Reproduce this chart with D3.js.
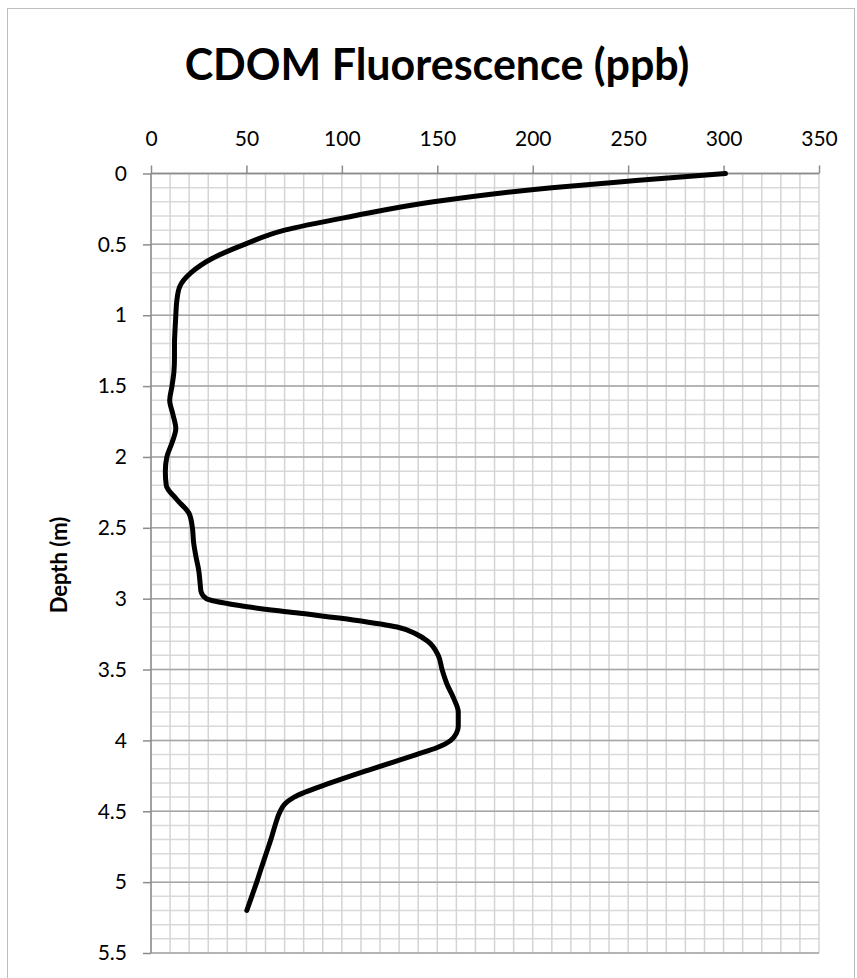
<!DOCTYPE html>
<html>
<head>
<meta charset="utf-8">
<script src="https://cdn.jsdelivr.net/npm/d3@7"></script>
<style>
body{margin:0;background:#fff;}
text{font-family:Lato,"Open Sans",sans-serif;fill:#000;}
</style>
</head>
<body>
<script>
// profile
var depth = [0,0.05,0.1,0.2,0.3,0.4,0.5,0.6,0.7,0.8,0.9,1.0,1.1,1.2,1.3,1.4,1.5,1.6,1.7,1.8,1.9,2.0,2.1,2.2,2.3,2.4,2.5,2.6,2.7,2.8,2.9,2.95,3.0,3.05,3.1,3.15,3.2,3.25,3.3,3.4,3.5,3.6,3.7,3.8,3.9,3.95,4.0,4.05,4.1,4.2,4.3,4.4,4.45,4.5,4.6,4.7,4.8,4.9,5.0,5.1,5.2]
var cdom = [301,254,210,148,106,70,49,32,21,15,13.5,13,12.6,12.3,12.3,12,11,9.8,11.5,13,11,8.3,7.5,8,13.5,20,21.7,22.3,23.5,25,25.8,26.2,29,47,76,106,129,139,145,150.5,152.5,155,158.5,161,161,160,157,150,139,116,94,75,70,67.7,65,62.8,60.3,57.8,55.4,52.8,50.2]

var xTicks = [0,50,100,150,200,250,300,350]
var yTicks = [0,0.5,1,1.5,2,2.5,3,3.5,4,4.5,5,5.5]
var title = "CDOM Fluorescence (ppb)"
var yTitle = "Depth (m)"

var width = 857, height = 978

var svg = d3.select("body").append("svg")
	.attr("width",width)
	.attr("height",height)

// chart area border
svg.append("rect").attr("x",7.5).attr("y",8.5).attr("width",847).attr("height",1000)
	.attr("fill","none").attr("stroke","#bdbdbd").attr("stroke-width",1)

var x = d3.scaleLinear().domain([0,350]).range([151,819])
var y = d3.scaleLinear().domain([0,5.5]).range([173.5,953])

// minor grid
var minorX = d3.range(0,351,10)
var minorY = d3.range(0,56).map(function(d){return d/10})
svg.append("g").selectAll("line").data(minorY).enter().append("line")
	.attr("x1",x(0)).attr("x2",x(350))
	.attr("y1",function(d){return y(d)}).attr("y2",function(d){return y(d)})
	.attr("stroke","#d9d9d9").attr("stroke-width",1.5)
svg.append("g").selectAll("line").data(minorX).enter().append("line")
	.attr("y1",y(0)).attr("y2",y(5.5))
	.attr("x1",function(d){return x(d)}).attr("x2",function(d){return x(d)})
	.attr("stroke","#d4d4d4").attr("stroke-width",1.5)
// major horizontal grid
svg.append("g").selectAll("line").data(yTicks).enter().append("line")
	.attr("x1",x(0)).attr("x2",x(350))
	.attr("y1",function(d){return y(d)}).attr("y2",function(d){return y(d)})
	.attr("stroke","#a6a6a6").attr("stroke-width",1.5)

// axes
var xAxis = d3.axisTop(x).tickValues(xTicks).tickSize(8).tickPadding(20)
var gx = svg.append("g").attr("transform","translate(0,"+y(0)+")").call(xAxis)
var yAxis = d3.axisLeft(y).tickValues(yTicks).tickSize(8).tickPadding(16)
	.tickFormat(function(d){return d})
var gy = svg.append("g").attr("transform","translate("+x(0)+",0)").call(yAxis)
;[gx,gy].forEach(function(g){
	g.select(".domain").attr("stroke","#8c8c8c").attr("stroke-width",1.5)
	g.selectAll(".tick line").attr("stroke","#8c8c8c").attr("stroke-width",1.5)
	g.selectAll(".tick text").style("font-family","Lato").style("font-size","21px").attr("fill","#000")
})
gx.select(".domain").attr("d","M"+x(0)+",0H"+x(350))
gy.select(".domain").attr("d","M0,"+y(0)+"V"+y(5.5))

// profile line
var line = d3.line()
	.x(function(d,i){return x(cdom[i])})
	.y(function(d){return y(d)})
	.curve(d3.curveMonotoneY)
svg.append("path").datum(depth)
	.attr("d",line)
	.attr("fill","none")
	.attr("stroke","#000")
	.attr("stroke-width",5)
	.attr("stroke-linejoin","round")
	.attr("stroke-linecap","round")

svg.append("text").text(title)
	.attr("x",437).attr("y",80)
	.attr("text-anchor","middle")
	.style("font-weight","bold").style("font-size","43px")

svg.append("text").text(yTitle)
	.attr("transform","translate(67,565) rotate(-90)")
	.attr("text-anchor","middle")
	.style("font-weight","bold").style("font-size","22px")
</script>
</body>
</html>
